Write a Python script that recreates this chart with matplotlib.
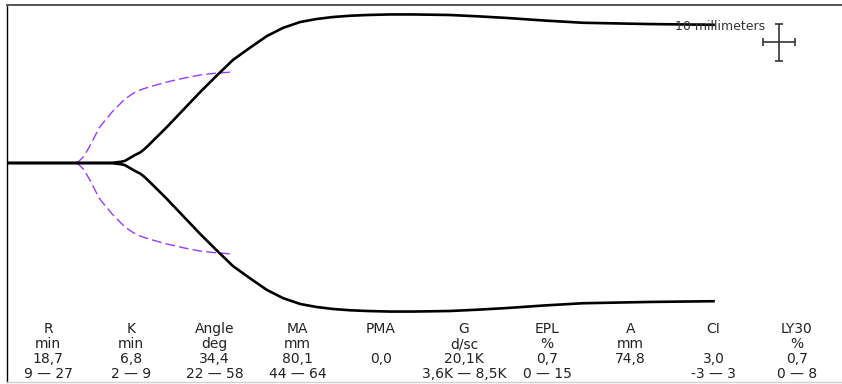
import matplotlib
matplotlib.use("Agg")
import matplotlib.pyplot as plt
import numpy as np

# TEG trace: time (min) vs full amplitude (mm), drawn symmetric about baseline
trace_t = [0, 15.6, 16.4, 16.9, 17.7, 18.4, 19.2, 20.0, 20.8, 21.3, 22.0, 23.1,
           23.9, 25.0, 27.5, 30.2, 32.7, 35.3, 38.0, 40.6, 43.1, 45.8, 48.3,
           50.9, 53.6, 56.3, 59.8, 63.4, 69.2, 73.5, 78.1, 84.0, 90.0, 100.5, 110.6]
trace_amp = [0, 0, 0.1, 0.3, 0.6, 1.1, 2.7, 4.3, 5.7, 7.0, 9.2, 13.0,
             15.7, 19.5, 28.6, 38.4, 47.0, 55.7, 62.4, 68.6, 73.0, 76.2, 77.8,
             78.9, 79.6, 80.0, 80.3, 80.3, 80.0, 79.3, 78.4, 77.0, 75.8, 75.1, 74.7]

# reference (normal) trace, dashed
ref_t = [0, 10.6, 11.25, 11.9, 12.5, 13.2, 13.75, 14.5, 15.2, 15.8, 16.4, 17.2,
         18.4, 19.7, 20.8, 22.3, 25.0, 27.8, 30.2, 32.5, 35.3]
ref_amp = [0, 0, 1.0, 3.2, 6.5, 10.8, 14.6, 19.5, 22.5, 24.9, 27.5, 30.3,
           34.5, 37.6, 39.5, 41.2, 43.8, 46.0, 47.6, 48.5, 49.2]

labels = ["R", "K", "Angle", "MA", "PMA", "G", "EPL", "A", "CI", "LY30"]
units = ["min", "min", "deg", "mm", "", "d/sc", "%", "mm", "", "%"]
values = ["18,7", "6,8", "34,4", "80,1", "0,0", "20,1K", "0,7", "74,8", "3,0", "0,7"]
ranges = ["9 \u2014 27", "2 \u2014 9", "22 \u2014 58", "44 \u2014 64", "",
          "3,6K \u2014 8,5K", "0 \u2014 15", "", "-3 \u2014 3", "0 \u2014 8"]

W, H = 842, 384
fig = plt.figure(figsize=(W / 100, H / 100), dpi=100)
ax = fig.add_axes([7 / W, 2 / H, (W - 7) / W, 377 / H])

t = np.array(trace_t)
a = np.array(trace_amp) / 2
rt = np.array(ref_t)
ra = np.array(ref_amp) / 2

purple = "#9a3cff"
ax.plot(rt, ra, color=purple, lw=1.0, dashes=(7, 3))
ax.plot(rt, -ra, color=purple, lw=1.0, dashes=(7, 3))
ax.plot(t, a, color="black", lw=1.9, solid_capstyle="butt", solid_joinstyle="round")
ax.plot(t, -a, color="black", lw=1.9, solid_capstyle="butt", solid_joinstyle="round")

# 10 mm scale cross
ax.errorbar([120.6], [32.7], xerr=2.5, yerr=5, fmt="none", ecolor="#333333",
            elinewidth=1.2, capsize=3, capthick=1.2)
ax.text(104.4, 35.9, "10 millimeters", fontsize=9, color="#333333",
        ha="left", va="baseline")

ax.set_xlim(0, (W - 7) / 6.4)
ax.set_ylim(-219 / 3.7, 158 / 3.7)
ax.set_xticks([])
ax.set_yticks([])
ax.spines["right"].set_visible(False)
ax.spines["left"].set_color("black")
ax.spines["left"].set_linewidth(1.0)
ax.spines["top"].set_color("#555555")
ax.spines["top"].set_linewidth(1.4)
ax.spines["bottom"].set_color("#d0d0d0")
ax.spines["bottom"].set_linewidth(1.0)

rows = [labels, units, values, ranges]
baselines = [333, 348, 363, 378]
for i in range(len(labels)):
    xc = 48 + 83.2 * i
    for row, yb in zip(rows, baselines):
        if row[i]:
            fig.text(xc / W, 1 - yb / H, row[i], fontsize=10, color="#222222",
                     ha="center", va="baseline")

fig.savefig("out.png", dpi=100)
